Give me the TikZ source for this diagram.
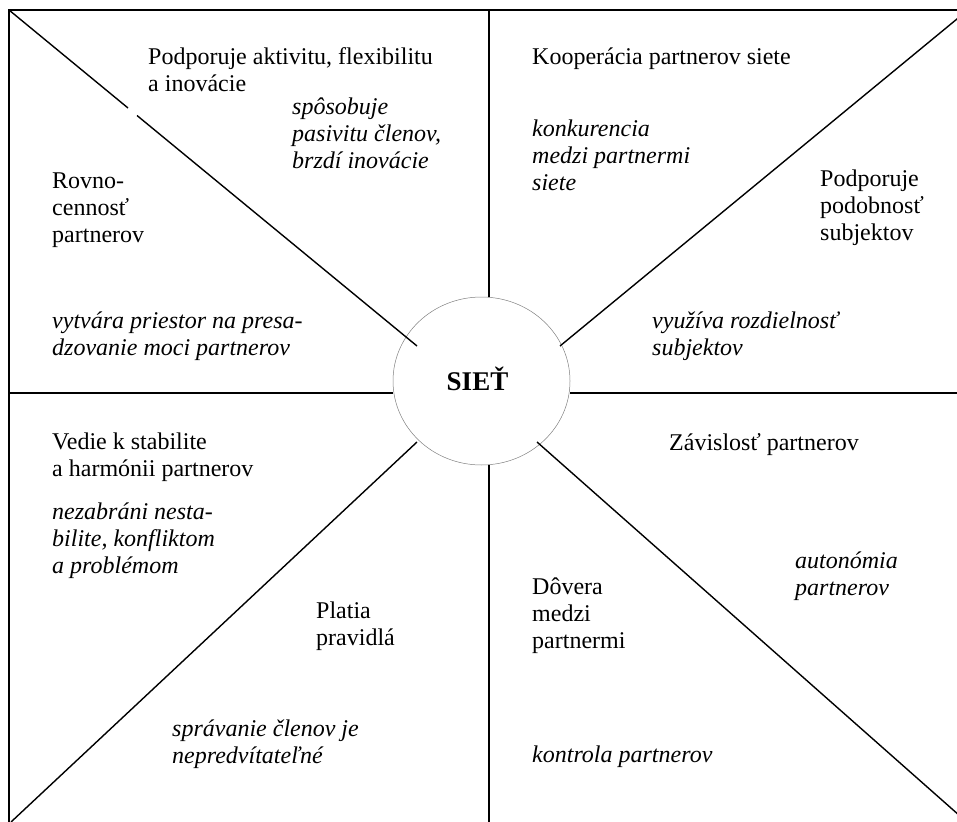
\documentclass[tikz,border=0pt]{standalone}
\usepackage{fontspec}
\setmainfont{Liberation Serif}
\usetikzlibrary{shapes.geometric}
\begin{document}
\begin{tikzpicture}[x=1pt,y=-1pt,
  frame/.style={line width=1.4pt,black},
  ray/.style={line width=1.4pt,black},
  txt/.style={anchor=base west,inner sep=0pt,align=left,font=\fontsize{24}{27}\selectfont},
  itxt/.style={txt,font=\fontsize{24}{27}\selectfont\itshape},
  hub/.style={ellipse,draw=gray,line width=0.5pt,minimum width=177pt,minimum height=168pt,inner sep=0pt,font=\fontsize{27}{30}\selectfont\bfseries}]
\useasboundingbox (0,0) rectangle (957,821);
% hub
\node[hub] (sit) at (481.5,381) {\raisebox{5pt}{SIEŤ}\hspace*{8pt}};
% frame corners and ray end points
\coordinate (tl) at (9,10);
\coordinate (tr) at (960,10);
\coordinate (bl) at (9,830);
\coordinate (ml) at (9,393);
\coordinate (mr) at (960,393);
\coordinate (tm) at (489,10);
\coordinate (bm) at (489,830);
\coordinate (rtr) at (960,16.5);
\coordinate (rbl) at (11,822);
\coordinate (rbr) at (960,816);
\coordinate (ctl) at (417,346);
\coordinate (ctr) at (560,346);
\coordinate (cbl) at (417,442);
\coordinate (cbr) at (537,442);
\coordinate (gap1) at (128,108);
\coordinate (gap2) at (137,115.5);
% frame
\draw[frame] (bl) -- (tl) -- (tr);
% cross lines
\draw[frame] (ml) -- (sit.west |- ml);
\draw[frame] (sit.east |- mr) -- (mr);
\draw[frame] (tm) -- (tm |- sit.north);
\draw[frame] (tm |- sit.south) -- (bm);
% diagonals
\draw[ray] (tl) -- (gap1);
\draw[ray] (gap2) -- (ctl);
\draw[ray] (rtr) -- (ctr);
\draw[ray] (cbl) -- (rbl);
\draw[ray] (cbr) -- (rbr);
% texts top-left (anchored at the baseline of the last line)
\node[txt] (t1) at (148,92) {Podporuje aktivitu, flexibilitu\\a inovácie};
\node[itxt] (t2) at (292,168) {spôsobuje\\pasivitu členov,\\brzdí inovácie};
\node[txt] (t3) at (52,242) {Rovno-\\cennosť\\partnerov};
\node[itxt] (t4) at (52,355) {vytvára priestor na presa-\\dzovanie moci partnerov};
% top-right
\node[txt] (t5) at (532,65) {Kooperácia partnerov siete};
\node[itxt] (t6) at (532,190) {konkurencia\\medzi partnermi\\siete};
\node[txt] (t7) at (820,240) {Podporuje\\podobnosť\\subjektov};
\node[itxt] (t8) at (652,355) {využíva rozdielnosť\\subjektov};
% bottom-left
\node[txt] (t9) at (52,476) {Vedie k stabilite\\a harmónii partnerov};
\node[itxt] (t10) at (52,573) {nezabráni nesta-\\bilite, konfliktom\\a problémom};
\node[txt] (t11) at (316,645) {Platia\\pravidlá};
\node[itxt] (t12) at (172,763) {správanie členov je\\nepredvítateľné};
% bottom-right
\node[txt] (t13) at (669,450) {Závislosť partnerov};
\node[itxt] (t14) at (795,595) {autonómia\\partnerov};
\node[txt] (t15) at (532,648) {Dôvera\\medzi\\partnermi};
\node[itxt] (t16) at (532,762) {kontrola partnerov};
\end{tikzpicture}
\end{document}
